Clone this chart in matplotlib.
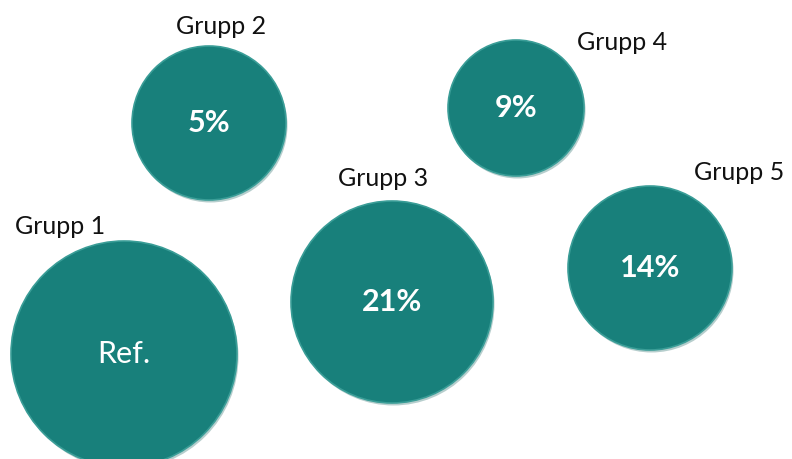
import matplotlib
matplotlib.use("Agg")
import matplotlib.pyplot as plt
from matplotlib.patches import Circle

groups = ["Grupp 1", "Grupp 2", "Grupp 3", "Grupp 4", "Grupp 5"]
values = ["Ref.", "5%", "21%", "9%", "14%"]
cx = [124, 209, 392, 516, 650]
cy = [354, 123, 302, 108, 268]
radius = [113, 77, 101, 68, 82]
label_x = [60, 221, 383, 622, 739]
label_y = [227, 27, 178, 43, 173]

fill = "#18807b"
edge = "#3a9d97"

fig = plt.figure(figsize=(7.92, 4.59), dpi=100)
ax = fig.add_axes([0, 0, 1, 1])
ax.set_xlim(0, 792)
ax.set_ylim(459, 0)
ax.set_aspect("equal")
ax.axis("off")

for i in range(len(groups)):
    # soft shadow
    ax.add_patch(Circle((cx[i] + 1.5, cy[i] + 2.5), radius[i], color="#0f5e5a", alpha=0.3, lw=0, zorder=1))
    ax.add_patch(Circle((cx[i], cy[i]), radius[i], facecolor=fill, edgecolor=edge, lw=1.2, zorder=2))
    ax.text(cx[i], cy[i], values[i], color="white", fontsize=22 if i == 0 else 22,
            fontweight="normal" if i == 0 else "bold", family=["Lato", "DejaVu Sans"],
            ha="center", va="center", zorder=3)
    ax.text(label_x[i], label_y[i], groups[i], color="#111111", fontsize=18,
            family=["Lato", "DejaVu Sans"], ha="center", va="center", zorder=3)

fig.savefig("out.png", dpi=100, facecolor="white")
